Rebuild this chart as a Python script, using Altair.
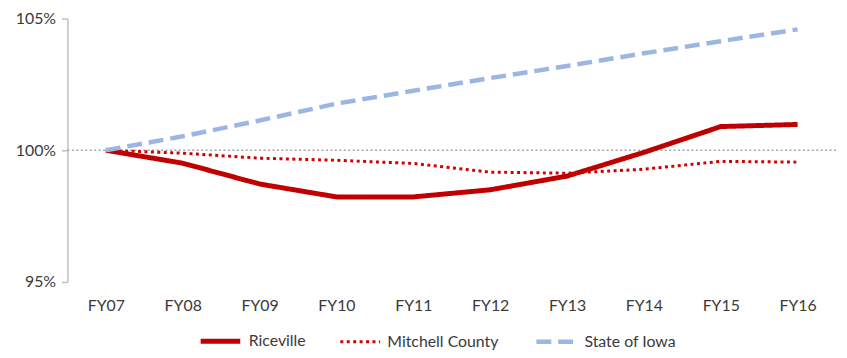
import altair as alt
import pandas as pd

years = ["FY07", "FY08", "FY09", "FY10", "FY11", "FY12", "FY13", "FY14", "FY15", "FY16"]
series_names = ["Riceville", "Mitchell County", "State of Iowa"]
riceville = [100.0, 99.51, 98.72, 98.23, 98.23, 98.50, 99.02, 99.92, 100.90, 100.98]
mitchell = [100.0, 99.89, 99.70, 99.62, 99.50, 99.17, 99.13, 99.28, 99.58, 99.55]
iowa = [100.0, 100.53, 101.13, 101.77, 102.26, 102.74, 103.20, 103.68, 104.14, 104.59]
y_ticks = [95, 100, 105]

rows = []
for name, vals in zip(series_names, [riceville, mitchell, iowa]):
    for yr, v in zip(years, vals):
        rows.append({"year": yr, "series": name, "value": v})
df = pd.DataFrame(rows)

FONT = "Lato"
TEXT = "#3a3a3a"

x_enc = alt.X("year:N", sort=years, title=None,
              scale=alt.Scale(type="point", padding=0.5),
              axis=alt.Axis(domain=False, ticks=False, labelPadding=16, labelAngle=0,
                            labelFont=FONT, labelFontSize=16, labelColor=TEXT, grid=False))
y_scale = alt.Scale(domain=[95, 105], nice=False, zero=False)
y_axis = alt.Axis(values=y_ticks, labelExpr="datum.value + '%'", grid=False,
                  domainColor="#bfbfbf", domainWidth=1.5, tickColor="#bfbfbf",
                  tickWidth=1.5, tickSize=6, labelPadding=6,
                  labelFont=FONT, labelFontSize=16, labelColor=TEXT)

rule = alt.Chart(pd.DataFrame({"v": [100]})).mark_rule(
    color="#a6a6a6", strokeWidth=1.5, strokeDash=[2, 2.5]
).encode(y=alt.Y("v:Q", scale=y_scale, title=None, axis=y_axis))

lines = alt.Chart(df).mark_line(strokeCap="butt", strokeJoin="round").encode(
    x=x_enc,
    y=alt.Y("value:Q", scale=y_scale, title=None, axis=y_axis),
    color=alt.Color("series:N", sort=series_names, title=None,
                    scale=alt.Scale(domain=series_names, range=["#C00000", "#D20000", "#9BB6E3"])),
    strokeDash=alt.StrokeDash("series:N", sort=series_names, title=None,
                              scale=alt.Scale(domain=series_names, range=[[1, 0], [3, 3.5], [15, 7]])),
    strokeWidth=alt.StrokeWidth("series:N", sort=series_names, title=None,
                                scale=alt.Scale(type="ordinal", domain=series_names, range=[5, 3, 4.5])),
)

chart = alt.layer(rule, lines).properties(
    width=776, height=266,
    padding={"left": 60, "top": 9, "right": 3, "bottom": 67},
    autosize=alt.AutoSizeParams(type="none"),
).configure_view(stroke=None).configure_legend(
    orient="none", legendX=132, legendY=303, direction="horizontal",
    symbolType="stroke", symbolSize=1600, labelFont=FONT, labelFontSize=16,
    labelColor=TEXT, labelOffset=6, columnPadding=28,
)

chart.save("out.html", embed_options={"renderer": "svg", "actions": False})
